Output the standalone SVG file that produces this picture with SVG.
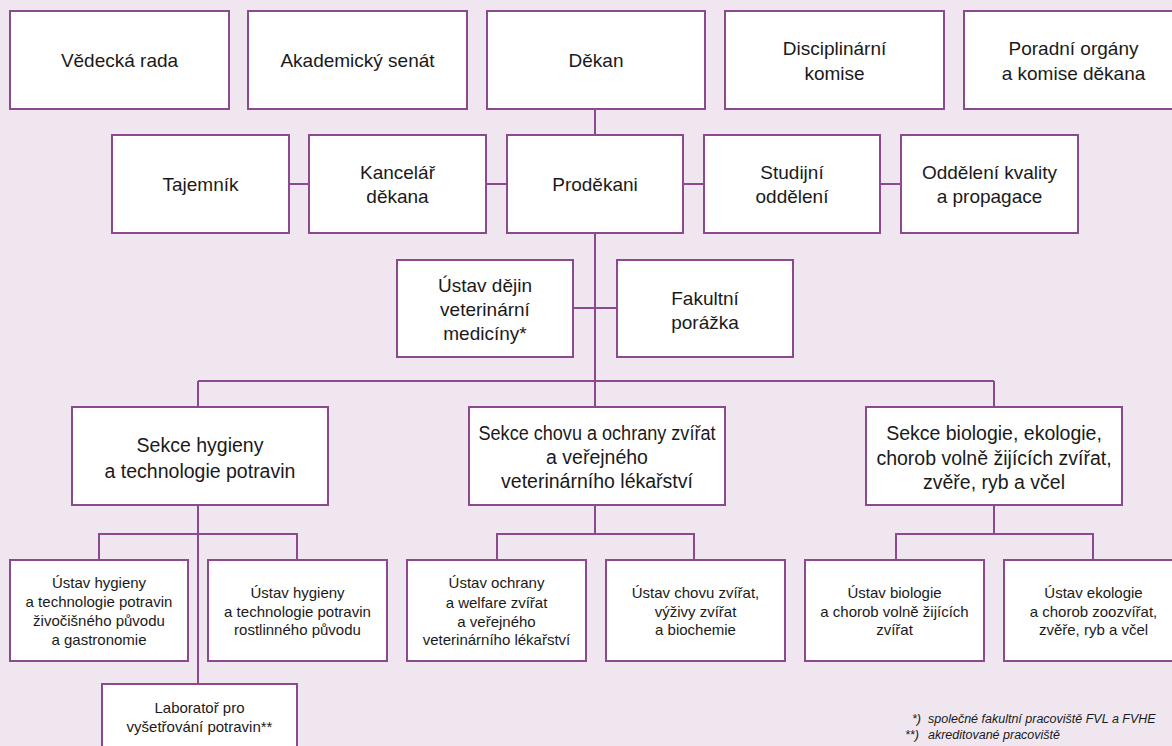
<svg xmlns="http://www.w3.org/2000/svg" width="1172" height="746" viewBox="0 0 1172 746">
<style>
.bg{fill:#efe6ef}
.box{fill:#ffffff;stroke:#8c4a8e;stroke-width:2}
.ln{stroke:#8c4a8e;stroke-width:2;fill:none}
text{font-family:"Liberation Sans",Arial,sans-serif;fill:#1a1a1a;text-anchor:middle}
.t1{font-size:19px}
.t2{font-size:19.5px}
.t3{font-size:15px}
.fn{font-size:12.5px;font-style:italic;text-anchor:start}
</style>
<rect class="bg" x="0" y="0" width="1172" height="746"/>
<g id="connectors">
<path class="ln" d="M595 109V135"/>
<path class="ln" d="M289 184H901"/>
<path class="ln" d="M595 233V381"/>
<path class="ln" d="M573 308H617"/>
<path class="ln" d="M198 381H994"/>
<path class="ln" d="M198 381V407M595 381V407M994 381V407"/>
<path class="ln" d="M198 505V684M99 560V534H297V560"/>
<path class="ln" d="M595 505V534M497 560V534H694V560"/>
<path class="ln" d="M994 505V534M896 560V534H1093V560"/>
</g>
<g id="vedecka-rada"><rect class="box" x="10" y="11" width="219" height="98"/><text class="t1" x="119.5" y="67">Vědecká rada</text></g>
<g id="akademicky-senat"><rect class="box" x="248" y="11" width="219" height="98"/><text class="t1" x="357.5" y="67">Akademický senát</text></g>
<g id="dekan"><rect class="box" x="487" y="11" width="218" height="98"/><text class="t1" x="596" y="67">Děkan</text></g>
<g id="disciplinarni-komise"><rect class="box" x="725" y="11" width="219" height="98"/><text class="t1" x="834.5" y="55">Disciplinární</text><text class="t1" x="834.5" y="80">komise</text></g>
<g id="poradni-organy"><rect class="box" x="964" y="11" width="219" height="98"/><text class="t1" x="1073.5" y="55">Poradní orgány</text><text class="t1" x="1073.5" y="80">a komise děkana</text></g>
<g id="tajemnik"><rect class="box" x="112" y="135" width="177" height="98"/><text class="t1" x="200.5" y="191">Tajemník</text></g>
<g id="kancelar-dekana"><rect class="box" x="309" y="135" width="177" height="98"/><text class="t1" x="397.5" y="179">Kancelář</text><text class="t1" x="397.5" y="203">děkana</text></g>
<g id="prodekani"><rect class="box" x="507" y="135" width="176" height="98"/><text class="t1" x="595" y="191">Proděkani</text></g>
<g id="studijni-oddeleni"><rect class="box" x="704" y="135" width="176" height="98"/><text class="t1" x="792" y="179">Studijní</text><text class="t1" x="792" y="203">oddělení</text></g>
<g id="oddeleni-kvality"><rect class="box" x="901" y="135" width="177" height="98"/><text class="t1" x="989.5" y="179">Oddělení kvality</text><text class="t1" x="989.5" y="203">a propagace</text></g>
<g id="ustav-dejin"><rect class="box" x="397" y="260" width="176" height="97"/><text class="t1" x="485" y="292">Ústav dějin</text><text class="t1" x="485" y="316">veterinární</text><text class="t1" x="485" y="340">medicíny*</text></g>
<g id="fakultni-porazka"><rect class="box" x="617" y="260" width="176" height="97"/><text class="t1" x="705" y="305">Fakultní</text><text class="t1" x="705" y="329">porážka</text></g>
<g id="sekce-hygieny"><rect class="box" x="72" y="407" width="256" height="98"/><text class="t2" x="200" y="452">Sekce hygieny</text><text class="t2" x="200" y="478">a technologie potravin</text></g>
<g id="sekce-chovu"><rect class="box" x="469" y="407" width="256" height="98"/><text class="t2" x="597" y="440" textLength="237" lengthAdjust="spacingAndGlyphs">Sekce chovu a ochrany zvířat</text><text class="t2" x="597" y="464">a veřejného</text><text class="t2" x="597" y="488">veterinárního lékařství</text></g>
<g id="sekce-biologie"><rect class="box" x="866" y="407" width="256" height="98"/><text class="t2" x="994" y="440">Sekce biologie, ekologie,</text><text class="t2" x="994" y="465">chorob volně žijících zvířat,</text><text class="t2" x="994" y="489">zvěře, ryb a včel</text></g>
<g id="ustav-hygieny-zivocisneho"><rect class="box" x="10" y="560" width="178" height="101"/><text class="t3" x="99" y="588">Ústav hygieny</text><text class="t3" x="99" y="607">a technologie potravin</text><text class="t3" x="99" y="626">živočišného původu</text><text class="t3" x="99" y="645">a gastronomie</text></g>
<g id="ustav-hygieny-rostlinneho"><rect class="box" x="208" y="560" width="179" height="101"/><text class="t3" x="297.5" y="598">Ústav hygieny</text><text class="t3" x="297.5" y="617">a technologie potravin</text><text class="t3" x="297.5" y="635">rostlinného původu</text></g>
<g id="laborator"><rect class="box" x="102" y="684" width="195" height="80"/><text class="t3" x="199.5" y="713">Laboratoř pro</text><text class="t3" x="199.5" y="732">vyšetřování potravin**</text></g>
<g id="ustav-ochrany"><rect class="box" x="407" y="560" width="179" height="101"/><text class="t3" x="496.5" y="588">Ústav ochrany</text><text class="t3" x="496.5" y="608">a welfare zvířat</text><text class="t3" x="496.5" y="627">a veřejného</text><text class="t3" x="496.5" y="645">veterinárního lékařství</text></g>
<g id="ustav-chovu"><rect class="box" x="606" y="560" width="179" height="101"/><text class="t3" x="695.5" y="598">Ústav chovu zvířat,</text><text class="t3" x="695.5" y="617">výživy zvířat</text><text class="t3" x="695.5" y="635">a biochemie</text></g>
<g id="ustav-biologie"><rect class="box" x="805" y="560" width="179" height="101"/><text class="t3" x="894.5" y="598">Ústav biologie</text><text class="t3" x="894.5" y="617">a chorob volně žijících</text><text class="t3" x="894.5" y="635">zvířat</text></g>
<g id="ustav-ekologie"><rect class="box" x="1004" y="560" width="179" height="101"/><text class="t3" x="1093.5" y="598">Ústav ekologie</text><text class="t3" x="1093.5" y="617">a chorob zoozvířat,</text><text class="t3" x="1093.5" y="635">zvěře, ryb a včel</text></g>
<g id="footnotes">
<text class="fn" x="912" y="723">*)</text>
<text class="fn" x="928" y="723">společné fakultní pracoviště FVL a FVHE</text>
<text class="fn" x="905" y="739">**)</text>
<text class="fn" x="928" y="739">akreditované pracoviště</text>
</g>
</svg>
